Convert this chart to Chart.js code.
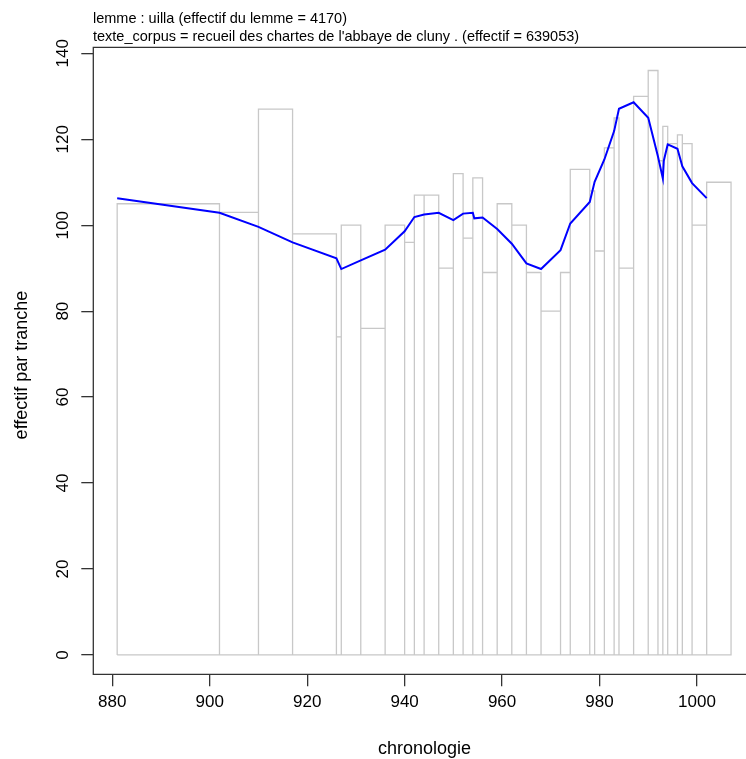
<!DOCTYPE html>
<html>
<head>
<meta charset="utf-8">
<script src="https://cdn.jsdelivr.net/npm/chart.js@4.4.1/dist/chart.umd.min.js"></script>
<style>
  html, body { margin: 0; padding: 0; background: #fff; overflow: hidden; }
  #wrap { width: 760px; height: 759px; }
</style>
</head>
<body>
<div id="wrap"><canvas id="chart" width="760" height="759"></canvas></div>
<script>
// tranche boundaries (start of each tranche, last value = end of last tranche)
const trancheBounds = [881, 902, 910, 917, 926, 927, 931, 936, 940, 942, 944, 947, 950, 952, 954, 956, 959, 962,
  965, 968, 972, 974, 978, 979, 981, 983, 984, 987, 990, 992, 993, 994, 996, 997, 999, 1002, 1007]
// count per tranche
const trancheCounts = [105, 103, 127, 98, 74, 100, 76, 100, 96, 107, 107, 90, 112, 97, 111, 89, 105,
  100, 89, 80, 89, 113, 108, 94, 118, 125, 90, 130, 136, 115, 123, 119, 121, 119, 100, 110]

// smoothed curve
const curveX = [881, 902, 910, 917, 926, 927, 931, 936, 940, 942, 944, 947, 950, 952, 954, 954.3, 956, 959, 962,
  965, 968, 972, 974, 978, 979, 981, 983, 984, 987, 990, 992, 993, 993.2, 994, 996, 997, 999, 1002]
const curveY = [106.3, 102.9, 99.6, 96.0, 92.3, 89.8, 91.8, 94.3, 98.6, 101.9, 102.5, 102.9, 101.2, 102.7, 102.9, 101.6, 101.8, 99.1, 95.7,
  91.1, 89.8, 94.2, 100.4, 105.4, 110.1, 115.3, 121.9, 127.1, 128.6, 125.0, 116.0, 110.9, 115.0, 118.8, 117.8, 113.7, 109.8, 106.3]

const xTicks = [880, 900, 920, 940, 960, 980, 1000]
const yTicks = [0, 20, 40, 60, 80, 100, 120, 140]

const titleLines = [
  "lemme : uilla (effectif du lemme = 4170)",
  "texte_corpus = recueil des chartes de l'abbaye de cluny . (effectif = 639053)"
]
const xTitle = "chronologie"
const yTitle = "effectif par tranche"

// rectangle outlines, one closed path per tranche, separated by gaps
const rectPoints = []
trancheCounts.forEach((h, i) => {
  const x0 = trancheBounds[i], x1 = trancheBounds[i + 1]
  rectPoints.push({x: x0, y: 0}, {x: x0, y: h}, {x: x1, y: h}, {x: x1, y: 0}, {x: x0, y: 0}, {x: x0, y: null})
})
const curvePoints = curveX.map((x, i) => ({x: x, y: curveY[i]}))

const FONT = "'Liberation Sans', Arial, sans-serif"

const rDecor = {
  id: 'rDecor',
  afterDraw(chart) {
    const c = chart.ctx, a = chart.chartArea
    const ys = chart.scales.y
    c.save()
    // box
    c.strokeStyle = '#333'
    c.lineWidth = 1.3
    c.beginPath()
    c.moveTo(a.right, a.top)
    c.lineTo(a.left, a.top)
    c.lineTo(a.left, a.bottom)
    c.lineTo(a.right, a.bottom)
    c.stroke()
    // y tick labels, rotated like R
    c.fillStyle = '#000'
    c.font = '17px ' + FONT
    c.textAlign = 'center'
    c.textBaseline = 'middle'
    yTicks.forEach(v => {
      const y = ys.getPixelForValue(v)
      c.save()
      c.translate(63, y)
      c.rotate(-Math.PI / 2)
      c.fillText(String(v), 0, 0)
      c.restore()
    })
    // axis titles
    c.font = '18px ' + FONT
    c.fillText(xTitle, (a.left + a.right) / 2, 749)
    c.save()
    c.translate(22, 365)
    c.rotate(-Math.PI / 2)
    c.fillText(yTitle, 0, 0)
    c.restore()
    // header
    c.font = '14.5px ' + FONT
    c.textAlign = 'left'
    c.fillText(titleLines[0], 93, 19)
    c.fillText(titleLines[1], 93, 37)
    c.restore()
  }
}

new Chart(document.getElementById('chart'), {
  type: 'line',
  data: {
    datasets: [
      {
        data: curvePoints,
        borderColor: '#0000ff',
        borderWidth: 2,
        pointRadius: 0,
        tension: 0,
        order: 0
      },
      {
        data: rectPoints,
        borderColor: '#c8c8c8',
        borderWidth: 1.3,
        pointRadius: 0,
        tension: 0,
        spanGaps: false,
        order: 1
      }
    ]
  },
  options: {
    responsive: false,
    animation: false,
    events: [],
    layout: { padding: { top: 47.3, right: 4.4, left: 0, bottom: 0 } },
    plugins: { legend: { display: false }, tooltip: { enabled: false }, title: { display: false } },
    scales: {
      x: {
        type: 'linear',
        min: 876.1,
        max: 1012.04,
        afterFit: s => { s.height = 84.7 },
        afterBuildTicks: s => { s.ticks = xTicks.map(v => ({value: v})) },
        grid: { drawOnChartArea: false, tickLength: 12, color: '#333', lineWidth: 1.3 },
        border: { display: false },
        ticks: { color: '#000', font: { family: FONT, size: 17 }, padding: 6, maxRotation: 0, autoSkip: false,
                 callback: v => String(v) }
      },
      y: {
        type: 'linear',
        min: -4.5,
        max: 141.4,
        afterFit: s => { s.width = 93.3 },
        afterBuildTicks: s => { s.ticks = yTicks.map(v => ({value: v})) },
        grid: { drawOnChartArea: false, tickLength: 12, color: '#333', lineWidth: 1.3 },
        border: { display: false },
        ticks: { display: false }
      }
    }
  },
  plugins: [rDecor]
})
</script>
</body>
</html>
